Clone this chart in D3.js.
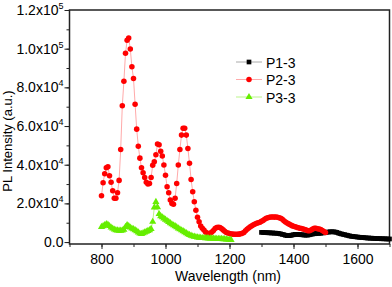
<!DOCTYPE html>
<meta charset="utf-8">
<style>
body { margin: 0; background: #fff; }
svg { font-family: "Liberation Sans", Arial, sans-serif; }
.axis text { font-size: 14px; fill: #000; }
.axis path, .axis line { stroke: #222; }
</style>
<svg width="392" height="287"></svg>
<script src="https://d3js.org/d3.v7.min.js"></script>
<script>
// wavelength grids (nm), 5 nm steps
var wlP1 = d3.range(1300, 1701, 5);
var wlP2 = d3.range(800, 1501, 5);
var wlP3 = d3.range(800, 1206, 5);

var p1 = [5000,5000,4900,4900,4800,4800,4700,4700,4600,4600,
          4500,4400,4200,4000,3800,3500,3300,3300,3400,3600,
          3800,4000,4000,3900,3900,3800,3700,3600,3600,3600,
          3800,4000,4200,4300,4400,4500,4500,4600,4700,4800,
          5000,5100,5200,5300,5300,5300,5200,5000,4700,4400,
          4200,4000,3800,3600,3400,3200,3000,2900,2800,2700,
          2600,2500,2400,2400,2300,2200,2100,2100,2000,2000,
          1900,1900,1800,1800,1800,1700,1700,1700,1600,1600,
          1600];

var p2 = [24000,30700,35300,38400,38900,34300,30900,26500,22700,22700,
          25500,31900,47900,70500,83200,97600,104400,105500,99800,90600,
          84600,71300,58400,49600,43400,38400,35800,33400,30900,30000,
          30300,33400,39700,41500,45100,50700,50300,46900,44500,39800,
          34600,28600,25500,21700,20000,19600,22600,30300,39800,47900,
          55300,58800,58800,55300,48400,40700,32400,26000,20800,16500,
          12800,10500,8300,7200,6200,5200,4600,4400,4500,5200,
          6000,7000,7500,7700,7500,7000,6300,5600,5000,4700,
          4400,4200,4100,4000,4000,4000,4100,4300,4500,5000,
          5800,6600,7300,7900,8400,8900,9300,9700,10000,10300,
          10700,11100,11800,12300,12600,12800,13000,13000,12900,13000,
          12800,12600,12300,11800,11000,10400,9900,9400,8900,8500,
          8200,7900,7600,7400,7200,7000,6800,6500,6200,5900,
          5800,6200,6800,7200,7100,6900,6700,6500,6000,5400,
          5000];

var p3 = [7800,8200,8800,9300,9000,8300,7500,7000,6500,6200,
          6000,5900,5900,6000,6400,7800,8800,8300,7500,7000,
          6700,6200,5600,5000,4400,4200,4600,5000,5400,5800,
          6200,6800,10500,17900,20800,18000,14500,13400,12800,12200,
          11600,11000,10400,9800,9200,8700,8200,7700,7100,6600,
          6100,5600,5100,4600,4100,3700,3300,3000,2800,2600,
          2400,2300,2200,2100,2100,2000,2000,1900,1900,1900,
          1800,1800,1700,1700,1600,1600,1500,1500,1400,1300,
          1200,1100];

var seriesNames = ["P1-3", "P2-3", "P3-3"];
var xTicks = [800, 1000, 1200, 1400, 1600];
var yTicks = [0, 20000, 40000, 60000, 80000, 100000, 120000];

var svg = d3.select("svg");
var pLeft = 69.5, pRight = 389.5, pTop = 10, pBottom = 244;

var x = d3.scaleLinear().domain([700, 1700]).range([pLeft, pRight]);
var y = d3.scaleLinear().domain([-1000, 120000]).range([pBottom, pTop]);

// minor ticks
svg.append("g").attr("class", "axis")
    .attr("transform", "translate(0," + pBottom + ")")
    .call(d3.axisBottom(x).tickValues(d3.range(700, 1701, 100)).tickSize(3).tickFormat(""))
    .select(".domain").remove();
svg.append("g").attr("class", "axis")
    .attr("transform", "translate(" + pLeft + ",0)")
    .call(d3.axisLeft(y).tickValues(d3.range(0, 120001, 10000)).tickSize(3).tickFormat(""))
    .select(".domain").remove();

// major ticks + labels
svg.append("g").attr("class", "axis")
    .attr("transform", "translate(0," + pBottom + ")")
    .call(d3.axisBottom(x).tickValues(xTicks).tickSize(5).tickPadding(5).tickFormat(d3.format("d")))
    .select(".domain").remove();

var yAxis = svg.append("g").attr("class", "axis")
    .attr("transform", "translate(" + pLeft + ",0)")
    .call(d3.axisLeft(y).tickValues(yTicks).tickSize(5).tickPadding(1));
yAxis.select(".domain").remove();
yAxis.selectAll(".tick text").each(function(d) {
    var t = d3.select(this).text(null);
    if (d === 0) { t.text("0.0"); return; }
    var exp = Math.floor(Math.log10(d));
    var mant = (d / Math.pow(10, exp)).toFixed(1);
    t.append("tspan").text(mant + "x10");
    t.append("tspan").attr("dy", "-6").attr("font-size", "9px").text(exp);
});

// frame
svg.append("rect")
    .attr("x", pLeft).attr("y", pTop)
    .attr("width", pRight - pLeft).attr("height", pBottom - pTop)
    .attr("fill", "none").attr("stroke", "#222").attr("stroke-width", 1.5);

// series
function pts(wl, vals) { return vals.map(function(v, i) { return [wl[i], v]; }); }
var line = d3.line().x(function(d) { return x(d[0]); }).y(function(d) { return y(d[1]); });

var series = [
    {name: seriesNames[0], data: pts(wlP1, p1), color: "#000", lineColor: "#aaa", shape: d3.symbolSquare, size: 22},
    {name: seriesNames[1], data: pts(wlP2, p2), color: "#ff0000", lineColor: "#ffaaaa", shape: d3.symbolCircle, size: 24},
    {name: seriesNames[2], data: pts(wlP3, p3), color: "#66ee00", lineColor: "#bbf58a", shape: d3.symbolTriangle, size: 22}
];

series.forEach(function(s) {
    svg.append("path").datum(s.data)
        .attr("d", line).attr("fill", "none")
        .attr("stroke", s.lineColor).attr("stroke-width", 1);
    svg.append("g").selectAll("path").data(s.data).enter().append("path")
        .attr("d", d3.symbol().type(s.shape).size(s.size))
        .attr("transform", function(d) { return "translate(" + x(d[0]) + "," + y(d[1]) + ")"; })
        .attr("fill", s.color);
});

// legend
var legend = svg.append("g");
series.forEach(function(s, i) {
    var ly = 62 + i * 17.5;
    legend.append("line").attr("x1", 236).attr("x2", 262).attr("y1", ly).attr("y2", ly)
        .attr("stroke", s.lineColor).attr("stroke-width", 1);
    legend.append("path").attr("d", d3.symbol().type(s.shape).size(s.size))
        .attr("transform", "translate(249," + ly + ")").attr("fill", s.color);
    legend.append("text").attr("x", 266).attr("y", ly + 5.5)
        .attr("font-size", "14px").text(s.name);
});

// axis titles
svg.append("text").attr("x", 228).attr("y", 281)
    .attr("text-anchor", "middle").attr("font-size", "14px").text("Wavelength (nm)");
svg.append("text").attr("transform", "translate(12,141) rotate(-90)")
    .attr("text-anchor", "middle").attr("font-size", "13px").text("PL Intensity (a.u.)");
</script>
